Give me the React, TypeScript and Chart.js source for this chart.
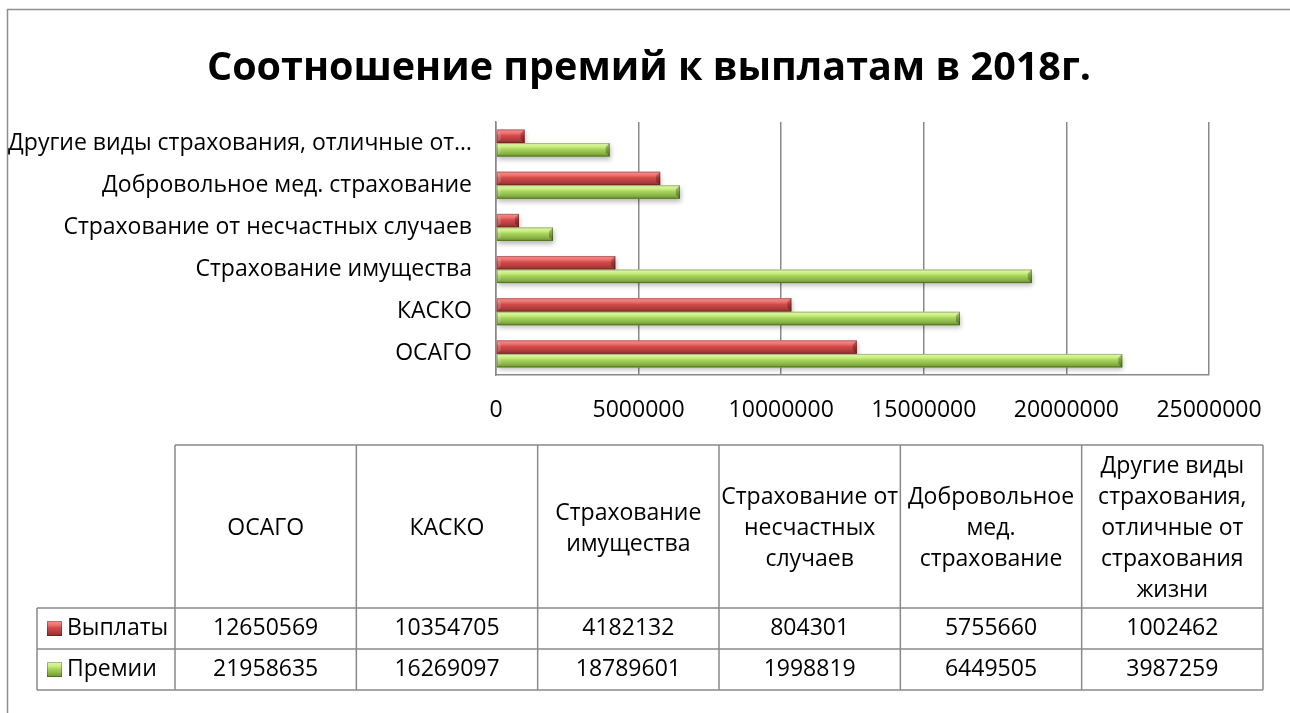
import React, { useEffect, useRef } from "react";
import { Chart, registerables } from "chart.js";

Chart.register(...registerables);

const chartTitle = "Соотношение премий к выплатам в 2018г.";
const categories = [
  "ОСАГО",
  "КАСКО",
  "Страхование имущества",
  "Страхование от несчастных случаев",
  "Добровольное мед. страхование",
  "Другие виды страхования, отличные от страхования жизни",
];
const seriesNames = ["Выплаты", "Премии"];
const payouts = [12650569, 10354705, 4182132, 804301, 5755660, 1002462];
const premiums = [21958635, 16269097, 18789601, 1998819, 6449505, 3987259];
const xMin = 0;
const xMax = 25000000;
const xStep = 5000000;

const FONT = "'Open Sans', 'Noto Sans', sans-serif";
const BODY_SIZE = 23;
const RED = "#D24B4A";
const GREEN = "#A9D55E";
const GRID = "#898989";
const RED_STOPS: [number, string][] = [
  [0, "#F79494"],
  [0.28, "#EF6C6A"],
  [0.45, "#D24B4A"],
  [0.75, "#B03D3C"],
  [1, "#8C2F2E"],
];
const GREEN_STOPS: [number, string][] = [
  [0, "#E3F8AE"],
  [0.28, "#C8EE80"],
  [0.45, "#A9D55E"],
  [0.75, "#8BB547"],
  [1, "#6A9032"],
];
const STOPS = [RED_STOPS, GREEN_STOPS];
const PLOT_LEFT = 496;
const PLOT_TOP = 122;

function wrapText(ctx: CanvasRenderingContext2D, text: string, maxW: number): string[] {
  const words = text.split(" ");
  const lines: string[] = [];
  let cur = "";
  for (const w of words) {
    const t = cur ? cur + " " + w : w;
    if (ctx.measureText(t).width <= maxW || !cur) cur = t;
    else {
      lines.push(cur);
      cur = w;
    }
  }
  if (cur) lines.push(cur);
  return lines;
}

function fillBevelRect(
  ctx: CanvasRenderingContext2D,
  left: number,
  top: number,
  w: number,
  h: number,
  stops: [number, string][]
) {
  const g = ctx.createLinearGradient(0, top, 0, top + h);
  stops.forEach(([o, c]) => g.addColorStop(o, c));
  ctx.fillStyle = g;
  ctx.fillRect(left, top, w, h);
}

const framePlugin = {
  id: "frame",
  beforeDraw(chart: any) {
    const ctx = chart.ctx as CanvasRenderingContext2D;
    ctx.save();
    ctx.fillStyle = "#fff";
    ctx.fillRect(0, 0, chart.width, chart.height);
    ctx.strokeStyle = "#8f8f8f";
    ctx.lineWidth = 1.5;
    ctx.beginPath();
    ctx.moveTo(7.5, chart.height);
    ctx.lineTo(7.5, 9.5);
    ctx.lineTo(chart.width, 9.5);
    ctx.stroke();
    // chart title
    ctx.fillStyle = "#000";
    ctx.font = `bold 39.5px ${FONT}`;
    ctx.textAlign = "center";
    ctx.textBaseline = "middle";
    ctx.fillText(chartTitle, 649, 69);
    ctx.restore();
  },
};

const bevelPlugin = {
  id: "bevel",
  beforeDatasetsDraw(chart: any) {
    const ctx = chart.ctx as CanvasRenderingContext2D;
    ctx.save();
    ctx.shadowColor = "rgba(0,0,0,0.28)";
    ctx.shadowBlur = 5;
    ctx.shadowOffsetX = 1;
    ctx.shadowOffsetY = 3;
  },
  afterDatasetsDraw(chart: any) {
    const ctx = chart.ctx as CanvasRenderingContext2D;
    ctx.restore();
    ctx.save();
    chart.data.datasets.forEach((_ds: any, i: number) => {
      const meta = chart.getDatasetMeta(i);
      meta.data.forEach((bar: any) => {
        const { x, y, base, height } = bar.getProps(["x", "y", "base", "height"], true);
        const top = y - height / 2;
        const bottom = y + height / 2;
        const left = Math.min(x, base);
        const right = Math.max(x, base);
        fillBevelRect(ctx, left, top, right - left, height, STOPS[i]);
        const bev = Math.min(4, height / 3);
        ctx.beginPath();
        ctx.moveTo(right, top);
        ctx.lineTo(right, bottom);
        ctx.lineTo(right - bev, bottom - bev);
        ctx.lineTo(right - bev, top + bev);
        ctx.closePath();
        ctx.fillStyle = "rgba(0,0,0,0.25)";
        ctx.fill();
        ctx.beginPath();
        ctx.moveTo(left, top);
        ctx.lineTo(left + bev, top + bev);
        ctx.lineTo(left + bev, bottom - bev);
        ctx.lineTo(left, bottom);
        ctx.closePath();
        ctx.fillStyle = "rgba(255,255,255,0.18)";
        ctx.fill();
        ctx.strokeStyle = "rgba(0,0,0,0.25)";
        ctx.lineWidth = 1;
        ctx.strokeRect(left + 0.5, top + 0.5, right - left - 1, height - 1);
      });
    });
    ctx.restore();
  },
};

const tablePlugin = {
  id: "dataTable",
  afterDraw(chart: any) {
    const ctx = chart.ctx as CanvasRenderingContext2D;
    const legendX = 37;
    const x0 = 175;
    const x1 = 1263;
    const yTop = 445;
    const yHead = 608;
    const rowH = 41;
    const n = categories.length;
    const colW = (x1 - x0) / n;
    const rows = [payouts, premiums];
    const yEnd = yHead + rowH * rows.length;

    ctx.save();
    ctx.strokeStyle = GRID;
    ctx.lineWidth = 1.5;
    ctx.beginPath();
    ctx.moveTo(x0, yTop);
    ctx.lineTo(x1, yTop);
    for (let r = 0; r <= rows.length; r++) {
      ctx.moveTo(legendX, yHead + r * rowH);
      ctx.lineTo(x1, yHead + r * rowH);
    }
    ctx.moveTo(legendX, yHead);
    ctx.lineTo(legendX, yEnd);
    for (let c = 0; c <= n; c++) {
      const cx = x0 + c * colW;
      ctx.moveTo(cx, yTop);
      ctx.lineTo(cx, yEnd);
    }
    ctx.stroke();

    ctx.fillStyle = "#000";
    ctx.font = `${BODY_SIZE}px ${FONT}`;
    ctx.textAlign = "center";
    ctx.textBaseline = "middle";
    const lh = 31;
    categories.forEach((cat, c) => {
      const lines = wrapText(ctx, cat, colW - 4);
      const cx = x0 + c * colW + colW / 2;
      const cy = (yTop + yHead) / 2 + 2;
      const start = cy - ((lines.length - 1) * lh) / 2;
      lines.forEach((ln, k) => ctx.fillText(ln, cx, start + k * lh));
    });

    rows.forEach((vals, r) => {
      const cy = yHead + r * rowH + rowH / 2;
      vals.forEach((v, c) => {
        ctx.fillText(String(v), x0 + c * colW + colW / 2, cy);
      });
      const ks = 15;
      const kx = 47;
      const ky = cy - ks / 2;
      fillBevelRect(ctx, kx, ky, ks, ks, STOPS[r]);
      ctx.strokeStyle = "rgba(0,0,0,0.25)";
      ctx.lineWidth = 1;
      ctx.strokeRect(kx + 0.5, ky + 0.5, ks - 1, ks - 1);
      ctx.fillStyle = "#000";
      ctx.textAlign = "left";
      ctx.fillText(seriesNames[r], kx + ks + 5, cy);
      ctx.textAlign = "center";
    });
    ctx.restore();
  },
};

export default function App() {
  const ref = useRef<HTMLCanvasElement | null>(null);
  useEffect(() => {
    if (!ref.current) return;
    const chart = new Chart(ref.current, {
      type: "bar",
      data: {
        labels: categories,
        datasets: [
          {
            label: seriesNames[0],
            data: payouts,
            backgroundColor: RED,
            borderWidth: 0,
            categoryPercentage: 0.64,
            barPercentage: 1,
          },
          {
            label: seriesNames[1],
            data: premiums,
            backgroundColor: GREEN,
            borderWidth: 0,
            categoryPercentage: 0.64,
            barPercentage: 1,
          },
        ],
      },
      options: {
        animation: false,
        responsive: false,
        indexAxis: "y",
        layout: { padding: { left: 0, right: 81, top: PLOT_TOP, bottom: 278 } },
        plugins: {
          legend: { display: false },
          tooltip: { enabled: false },
          title: { display: false },
        },
        scales: {
          x: {
            min: xMin,
            max: xMax,
            ticks: {
              stepSize: xStep,
              color: "#000",
              font: { family: FONT, size: BODY_SIZE },
              padding: 22,
              maxRotation: 0,
              autoSkip: false,
              callback: (v: any) => String(v),
            },
            grid: { color: GRID, lineWidth: 1.5, drawTicks: false },
            border: { color: GRID, width: 1.5 },
            afterFit(s: any) {
              s.height = 60;
            },
          },
          y: {
            reverse: true,
            ticks: {
              color: "#000",
              font: { family: FONT, size: BODY_SIZE },
              padding: 24,
              callback(this: any, value: any) {
                const label = String(this.getLabelForValue(value));
                return label.length > 40 ? label.slice(0, 36).trimEnd() + "…" : label;
              },
            },
            grid: { display: false, drawTicks: false },
            border: { color: GRID, width: 1.5 },
            afterFit(s: any) {
              s.width = PLOT_LEFT;
            },
          },
        },
      },
      plugins: [framePlugin, bevelPlugin, tablePlugin],
    });
    return () => chart.destroy();
  }, []);
  return (
    <div style={{ position: "absolute", left: 0, top: 0, width: 1290, height: 713 }}>
      <canvas ref={ref} width={1290} height={713} style={{ display: "block" }} />
    </div>
  );
}
